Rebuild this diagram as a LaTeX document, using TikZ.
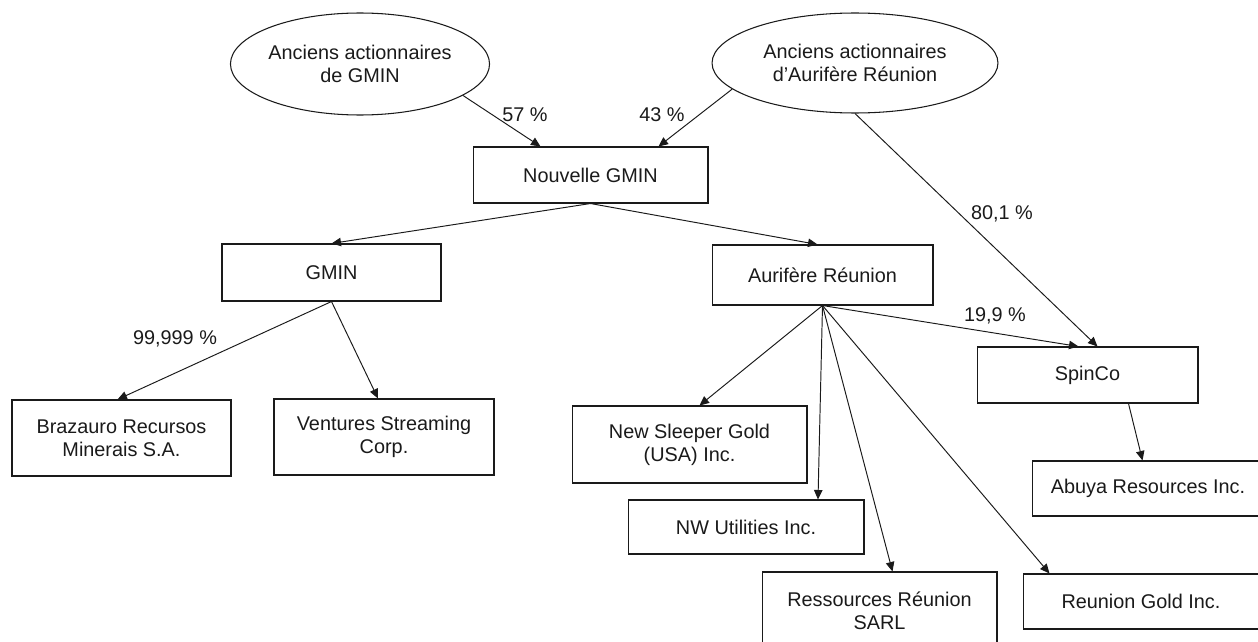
\documentclass[tikz,border=0pt]{standalone}
\usepackage{fontspec}
\setmainfont{Liberation Sans}
\usetikzlibrary{shapes.geometric,arrows.meta,calc}
\definecolor{ink}{HTML}{1A1A1A}

\begin{document}
\begin{tikzpicture}[x=0.02cm,y=-0.02cm,
  box/.style={draw=ink,line width=0.6pt,align=center,inner sep=0pt,text=ink,font=\fontsize{11.3}{13.2}\selectfont},
  holder/.style={box,ellipse},
  link/.style={draw=ink,line width=0.55pt,-{Triangle[length=5.4pt,width=4.8pt]}},
  pct/.style={text=ink,inner sep=0pt,font=\fontsize{11.3}{13.2}\selectfont}]
\useasboundingbox (0,0) rectangle (1258,642);
% shareholders
\node[holder,minimum width=4.5cm,minimum height=2.04cm] (e1) at (360,64) {Anciens actionnaires\\de GMIN};
\node[holder,minimum width=5.72cm,minimum height=2cm] (e2) at (855,63) {Anciens actionnaires\\d’Aurifère Réunion};
% companies
\node[box,minimum width=4.7cm,minimum height=1.12cm] (ng) at (590.5,175) {Nouvelle GMIN};
\node[box,minimum width=4.38cm,minimum height=1.14cm] (gm) at (331.5,272.5) {GMIN};
\node[box,minimum width=4.42cm,minimum height=1.2cm] (ar) at (822.5,275) {Aurifère Réunion};
\node[box,minimum width=4.42cm,minimum height=1.12cm] (sp) at (1087.5,375) {SpinCo};
\node[box,minimum width=4.38cm,minimum height=1.52cm] (bz) at (121.5,438) {Brazauro Recursos\\Minerais S.A.};
\node[box,minimum width=4.4cm,minimum height=1.52cm] (vs) at (384,437) {Ventures Streaming\\Corp.};
\node[box,minimum width=4.7cm,minimum height=1.54cm] (ns) at (689.5,444.5) {New Sleeper Gold\\(USA) Inc.};
\node[box,minimum width=4.72cm,minimum height=1.08cm] (nw) at (746,527) {NW Utilities Inc.};
\node[box,minimum width=4.7cm,minimum height=1.54cm] (rr) at (879.5,610.5) {Ressources Réunion\\SARL};
\node[box,minimum width=4.64cm,minimum height=1.1cm] (ab) at (1148,488.5) {Abuya Resources Inc.};
\node[box,minimum width=4.72cm,minimum height=1.1cm] (rg) at (1141,601.5) {Reunion Gold Inc.};
% links
\draw[link] (e1.-17) -- ($(ng.north)+(-50,0)$);
\draw[link] (e2.192) -- ($(ng.north)+(68,0)$);
\draw[link] (e2.south) -- ($(sp.north)+(10,0)$);
\draw[link] (ng.south) -- (gm.north);
\draw[link] (ng.south) -- ($(ar.north)+(-5,0)$);
\draw[link] (gm.south) -- ($(bz.north)+(-4,0)$);
\draw[link] (gm.south) -- ($(vs.north)+(-6,0)$);
\draw[link] (ar.south) -- ($(sp.north)+(-9,0)$);
\draw[link] (ar.south) -- ($(ns.north)+(10,0)$);
\draw[link] (ar.south) -- ($(nw.north)+(72,0)$);
\draw[link] (ar.south) -- ($(rr.north)+(13,0)$);
\draw[link] (ar.south) -- ($(rg.north west)+(27,0)$);
\draw[link] ($(sp.south)+(41,0)$) -- ($(ab.north west)+(111,0)$);
% percentages
\node[pct] (p57) at (525,115) {57 \%};
\node[pct] (p43) at (662,115) {43 \%};
\node[pct] (p801) at (1002,214) {80,1 \%};
\node[pct] (p199) at (995,316) {19,9 \%};
\node[pct] (p99) at (175,339) {99,999 \%};
\end{tikzpicture}
\end{document}
